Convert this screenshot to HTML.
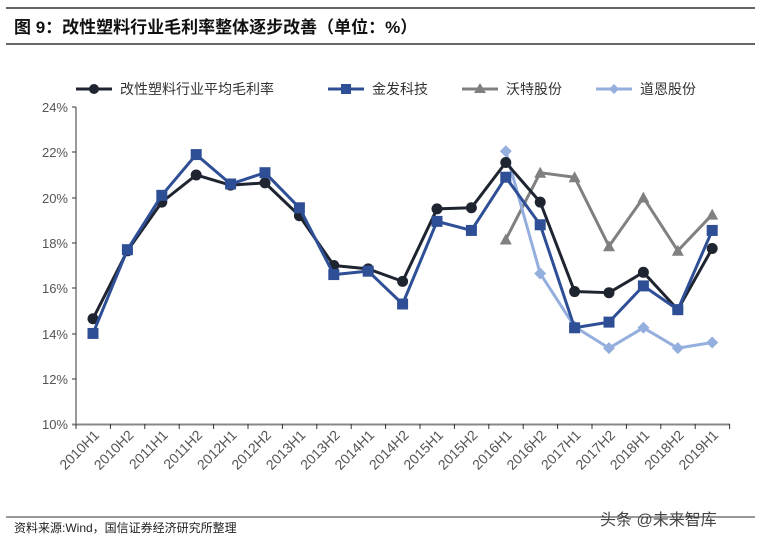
<!DOCTYPE html>
<html><head><meta charset="utf-8"><style>
body{margin:0;background:#fff;width:761px;height:541px;overflow:hidden;font-family:"Liberation Sans","Noto Sans CJK SC",sans-serif}
</style></head><body>
<svg width="761" height="541" xmlns="http://www.w3.org/2000/svg" font-family="Liberation Sans, Noto Sans CJK SC, sans-serif">
<line x1="6" y1="8" x2="755" y2="8" stroke="#333" stroke-width="1.5"/>
<line x1="6" y1="44" x2="755" y2="44" stroke="#333" stroke-width="1.5"/>
<text x="14" y="33" font-size="17" font-weight="bold" fill="#111">图 9：改性塑料行业毛利率整体逐步改善（单位：%）</text>
<line x1="6" y1="517" x2="755" y2="517" stroke="#333" stroke-width="1"/>
<text x="14" y="532" font-size="12" fill="#222">资料来源:Wind，国信证券经济研究所整理</text>
<text x="600" y="525" font-size="16" fill="#444">头条 @未来智库</text>
<g font-size="13" fill="#555" text-anchor="end">
<text x="68" y="112">24%</text><text x="68" y="157">22%</text><text x="68" y="203">20%</text><text x="68" y="248">18%</text><text x="68" y="293">16%</text><text x="68" y="339">14%</text><text x="68" y="384">12%</text><text x="68" y="429">10%</text>
</g>
<g stroke="#333" stroke-width="1">
<line x1="76" y1="107" x2="76" y2="424"/>
<line x1="72" y1="107" x2="76" y2="107"/><line x1="72" y1="152" x2="76" y2="152"/><line x1="72" y1="198" x2="76" y2="198"/><line x1="72" y1="243" x2="76" y2="243"/><line x1="72" y1="288" x2="76" y2="288"/><line x1="72" y1="334" x2="76" y2="334"/><line x1="72" y1="379" x2="76" y2="379"/>
</g>
<line x1="72" y1="424.5" x2="730" y2="424.5" stroke="#888" stroke-width="2"/>
<g id="xl"></g>
<g id="s"></g>
<g font-size="14" fill="#333">
<line x1="76" y1="89" x2="112" y2="89" stroke="#1f2530" stroke-width="3"/><circle cx="94" cy="89" r="5" fill="#1f2530"/><text x="120" y="94">改性塑料行业平均毛利率</text>
<line x1="328" y1="89" x2="364" y2="89" stroke="#2e4f96" stroke-width="3"/><rect x="341" y="84" width="10" height="10" fill="#2e4f96"/><text x="372" y="94">金发科技</text>
<line x1="462" y1="89" x2="498" y2="89" stroke="#808080" stroke-width="3"/><polygon points="480,83 486,93 474,93" fill="#808080"/><text x="506" y="94">沃特股份</text>
<line x1="596" y1="89" x2="632" y2="89" stroke="#94aedd" stroke-width="3"/><polygon points="614,84 619,89 614,94 609,89" fill="#94aedd"/><text x="640" y="94">道恩股份</text>
</g>
</svg>
<script>
var ns="http://www.w3.org/2000/svg",svg=document.querySelector('svg');
function el(t,a,p){var e=document.createElementNS(ns,t);for(var k in a)e.setAttribute(k,a[k]);(p||svg).appendChild(e);return e;}
var X=i=>93+i*34.4,Y=v=>424-(v-10)*22.64;
var xl=document.getElementById('xl'),labs=[];
for(var y=2010;y<=2019;y++){labs.push(y+'H1');if(y<2019)labs.push(y+'H2');}
for(var k=0;k<=19;k++)el('line',{x1:76+k*34.4,y1:424,x2:76+k*34.4,y2:429,stroke:'#333'},xl);
labs.forEach(function(l,i){var t=el('text',{x:X(i)+7,y:436,'font-size':14,fill:'#555','text-anchor':'end',transform:'rotate(-45 '+(X(i)+7)+' 436)'},xl);t.textContent=l;});
var g=document.getElementById('s');
function series(d,off,c,mk){var pts=d.map((v,i)=>[X(i+off),Y(v)]);
el('polyline',{points:pts.map(p=>p.join(',')).join(' '),fill:'none',stroke:c,'stroke-width':3,'stroke-linejoin':'round'},g);
pts.forEach(p=>{var x=p[0],y=p[1];
if(mk=='c')el('circle',{cx:x,cy:y,r:5.5,fill:c},g);
if(mk=='s')el('rect',{x:x-5.5,y:y-5.5,width:11,height:11,fill:c},g);
if(mk=='t')el('polygon',{points:[x,y-6,x+6,y+5,x-6,y+5].join(','),fill:c},g);
if(mk=='d')el('polygon',{points:[x,y-6,x+6,y,x,y+6,x-6,y].join(','),fill:c},g);});}
series([18.15,21.1,20.9,17.85,20.0,17.65,19.25],12,'#808080','t');
series([22.05,16.65,14.3,13.35,14.25,13.35,13.6],12,'#94aedd','d');
series([14.65,17.65,19.8,21.0,20.55,20.65,19.2,17.0,16.85,16.3,19.5,19.55,21.55,19.8,15.85,15.8,16.7,15.05,17.75],0,'#1f2530','c');
series([14.0,17.7,20.1,21.9,20.6,21.1,19.55,16.6,16.75,15.3,18.95,18.55,20.9,18.8,14.25,14.5,16.1,15.05,18.55],0,'#2e4f96','s');
</script>
</body></html>
